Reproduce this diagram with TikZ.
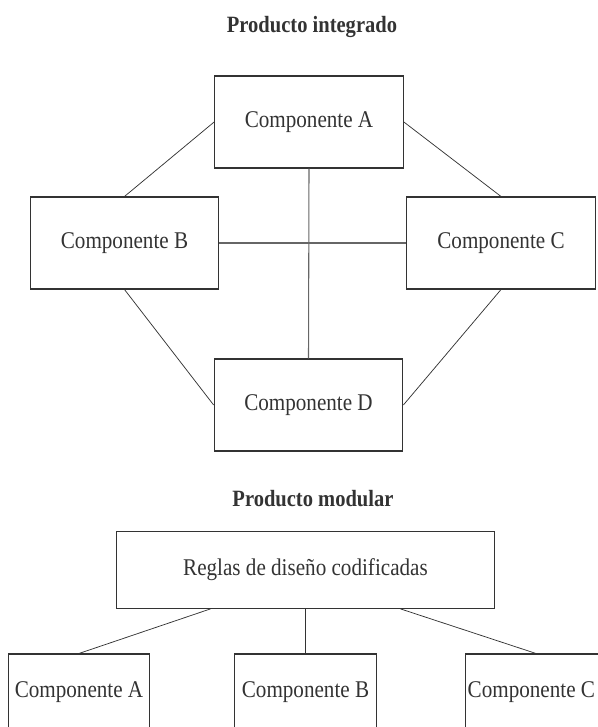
\documentclass[tikz,border=0pt]{standalone}
\usepackage{fontspec}
\setmainfont[FakeStretch=0.88]{Liberation Serif}
\usetikzlibrary{positioning, calc}
\definecolor{ink}{gray}{0.2}

\begin{document}
\begin{tikzpicture}[x=0.75pt,y=-0.75pt,
    comp/.style={draw=ink,line width=0.8pt,text=ink,inner sep=0pt,font=\fontsize{18}{21}\selectfont,minimum width=141.5pt,minimum height=69pt},
    modbox/.style={comp,minimum width=106pt,minimum height=57pt},
    title/.style={text=ink,font=\fontsize{17.5}{21}\selectfont\bfseries},
    link/.style={draw=ink,line width=0.55pt}]
    \useasboundingbox (0,0) rectangle (597,727);
    % Integrated product
    \node[title] (tint) at (312,27) {Producto integrado};
    \node[comp] (ia) at (309,122) {Componente A};
    \node[comp] (ib) at (124.5,243) {Componente B};
    \node[comp] (ic) at (501,243) {Componente C};
    \node[comp] (id) at (308.5,405) {Componente D};
    % Links between components
    \draw[link] (ia.west) -- (ib.north);
    \draw[link] (ia.east) -- (ic.north);
    \draw[link] (ib.south) -- (id.west);
    \draw[link] (ic.south) -- (id.east);
    \draw[link,draw=gray!80!black,line width=0.8pt] (ia.south) -- (id.north);
    \draw[link,draw=gray!80!black,line width=0.8pt] (ib.east) -- (ic.west);
    % Modular product
    \node[title] (tmod) at (313,499) {Producto modular};
    \node[comp,minimum width=284pt,minimum height=57.5pt] (rules) at (305.5,570) {Reglas de diseño codificadas};
    \node[modbox] (ma) at (79,692) {Componente A};
    \node[modbox] (mb) at (305.5,692) {Componente B};
    \node[modbox] (mc) at (536,692) {Componente C\kern7pt};
    % Links from rules to components
    \foreach \pos/\m in {0.25/ma,0.5/mb,0.75/mc}
        \draw[link] ($(rules.south west)!\pos!(rules.south east)$) -- (\m.north);
\end{tikzpicture}
\end{document}
